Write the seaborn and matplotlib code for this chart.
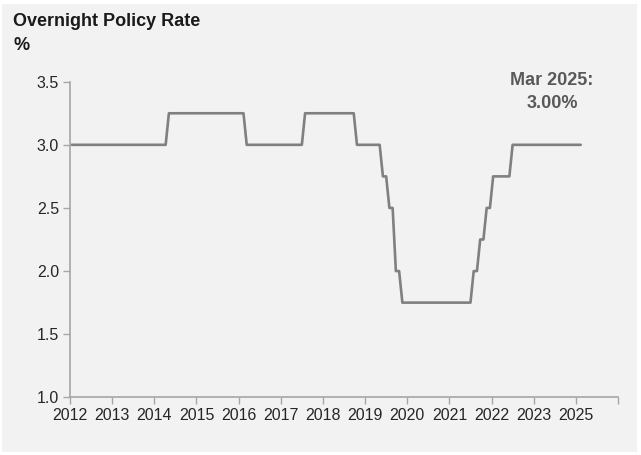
import numpy as np
import pandas as pd
import seaborn as sns
import matplotlib.pyplot as plt
from matplotlib.patches import Rectangle

# Overnight Policy Rate, monthly values (decision months and new rates)
start_month = '2012-01'
end_month = '2025-02'
start_rate = 3.00
change_months = ['2014-07', '2016-07', '2018-01', '2019-05', '2020-01', '2020-03',
                 '2020-05', '2020-07', '2022-05', '2022-07', '2022-09', '2022-11', '2023-05']
change_rates = [3.25, 3.00, 3.25, 3.00, 2.75, 2.50, 2.00, 1.75, 2.00, 2.25, 2.50, 2.75, 3.00]
label_every = 13          # category axis: one label every 13 months
n_slots = 169             # axis length in months
annot_text = 'Mar 2025:\n3.00%'

months = pd.period_range(start_month, end_month, freq='M')
rate = pd.Series(np.nan, index=months)
rate.iloc[0] = start_rate
for m, r in zip(change_months, change_rates):
    rate[pd.Period(m, freq='M')] = r
rate = rate.ffill()
df = pd.DataFrame({'pos': np.arange(len(rate)), 'rate': rate.values})

sns.set_style('white')
plt.rcParams['font.family'] = ['Liberation Sans', 'DejaVu Sans']
bg = '#f2f2f2'

fig = plt.figure(figsize=(6.41, 4.55), dpi=100, facecolor='white')
fig.patches.append(Rectangle((2 / 641, 1 - 452 / 455), 635 / 641, 448 / 455,
                             transform=fig.transFigure, facecolor=bg,
                             edgecolor='none', zorder=-10))
ax = fig.add_axes([70 / 641, 1 - 397.3 / 455, 548 / 641, 315.6 / 455])
ax.set_facecolor(bg)

sns.lineplot(data=df, x='pos', y='rate', ax=ax, color='#808080', linewidth=1.9)

ax.set_xlim(-0.5, n_slots - 0.5)
ax.set_ylim(1.0, 3.5)
ax.set_yticks(np.arange(1.0, 3.51, 0.5))
ax.set_yticklabels([f'{v:.1f}' for v in np.arange(1.0, 3.51, 0.5)])

tick_pos = np.arange(0, n_slots + 1, label_every) - 0.5
tick_lab = []
for k in range(len(tick_pos)):
    idx = k * label_every
    p = months[0] + idx
    tick_lab.append(str(p.year) if idx < len(months) else '')
ax.set_xticks(tick_pos)
ax.set_xticklabels(tick_lab)
ax.set_xlabel('')
ax.set_ylabel('')

for s in ['top', 'right']:
    ax.spines[s].set_visible(False)
for s in ['left', 'bottom']:
    ax.spines[s].set_color('#a6a6a6')
    ax.spines[s].set_linewidth(1.2)
ax.tick_params(axis='both', direction='out', length=5, width=1, color='#a6a6a6',
               labelsize=11.5, labelcolor='#262626', pad=3, bottom=True, left=True)

fig.text(13 / 641, 1 - 22 / 455, 'Overnight Policy Rate', fontsize=13,
         fontweight='bold', color='#1a1a1a', va='center', ha='left')
fig.text(13 / 641, 1 - 45 / 455, '%', fontsize=13,
         fontweight='bold', color='#1a1a1a', va='center', ha='left')
fig.text(552 / 641, 1 - 92 / 455, annot_text, fontsize=13, fontweight='bold',
         color='#595959', ha='center', va='center', linespacing=1.4)

fig.savefig('out.png', dpi=100, facecolor='white')
